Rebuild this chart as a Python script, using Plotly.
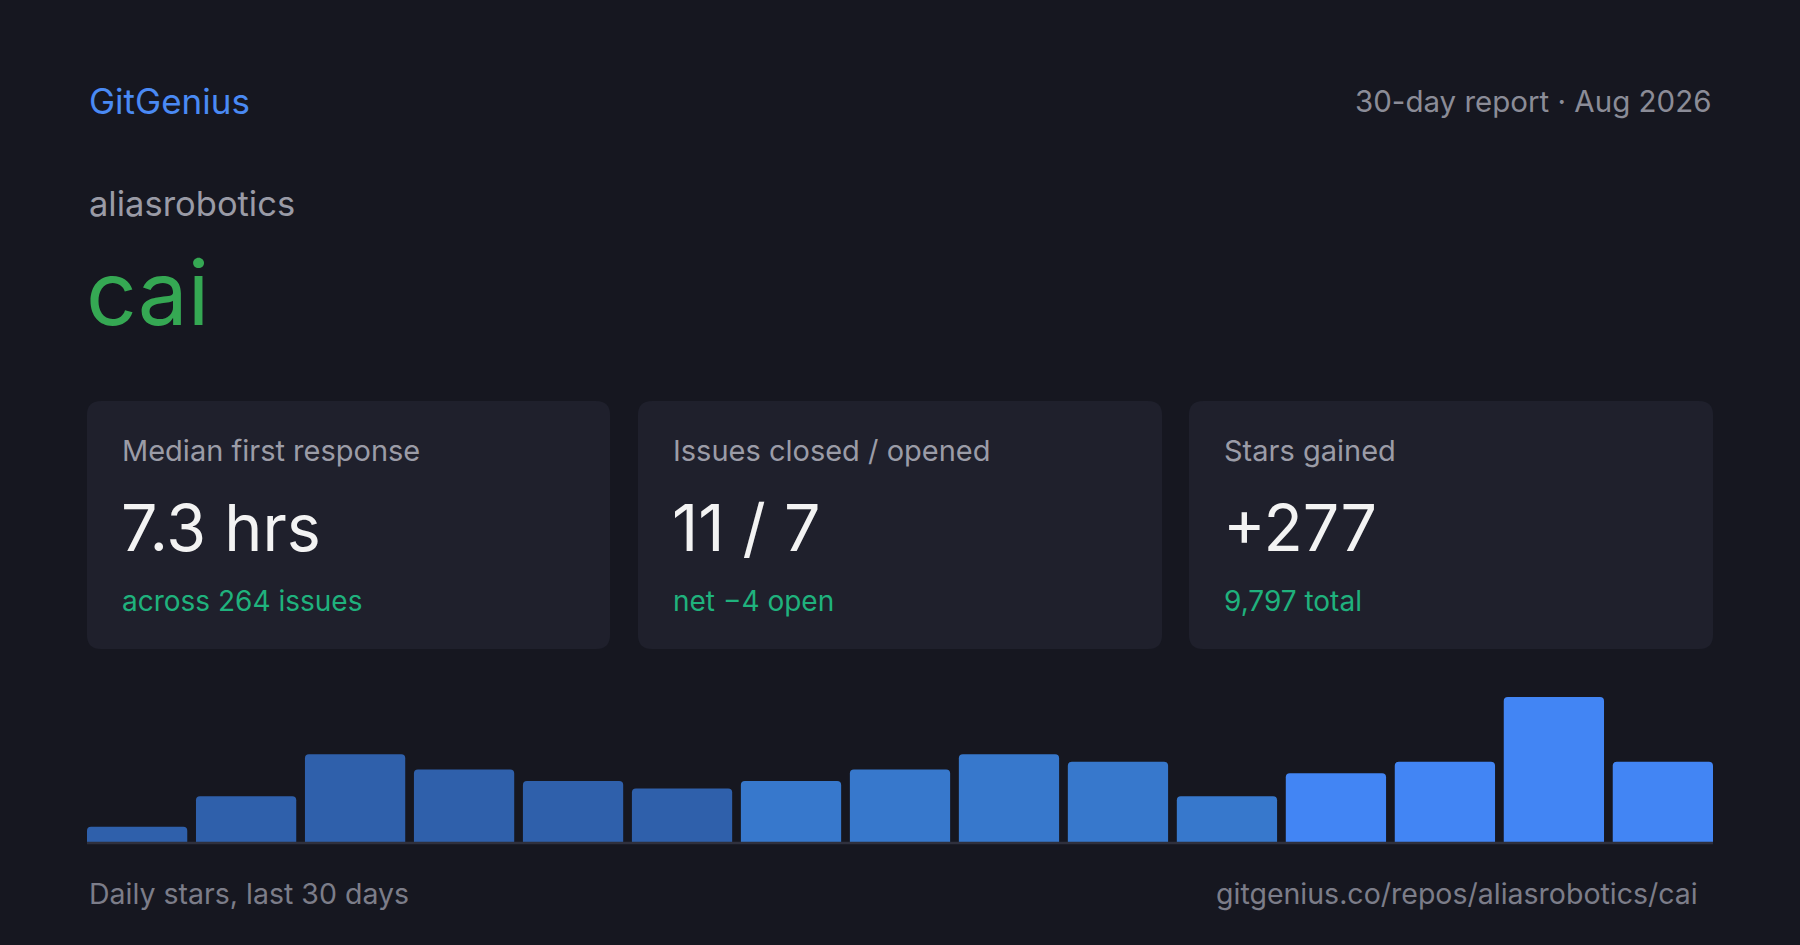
import plotly.graph_objects as go

owner = "aliasrobotics"
repo = "cai"
report_label = "30-day report · Aug 2026"
card_titles = ["Median first response", "Issues closed / opened", "Stars gained"]
card_values = ["7.3 hrs", "11 / 7", "+277"]
card_notes = ["across 264 issues", "net −4 open", "9,797 total"]
bins = list(range(15))
daily_stars = [4, 12, 23, 19, 16, 14, 16, 19, 23, 21, 12, 18, 21, 38, 21]

W, H = 1800, 945
BG = "#161720"
CARD_BG = "#1f202c"
FONT = "Inter"
GAP = 0.08

# older bins are drawn dimmer
shades = ["#2f60ab"] * 6 + ["#3778cc"] * 5 + ["#4285f4"] * 4


def rounded_rect(x0, y0, x1, y1, r):
    return (
        f"M{x0 + r},{y0} L{x1 - r},{y0} Q{x1},{y0} {x1},{y0 + r} "
        f"L{x1},{y1 - r} Q{x1},{y1} {x1 - r},{y1} L{x0 + r},{y1} "
        f"Q{x0},{y1} {x0},{y1 - r} L{x0},{y0 + r} Q{x0},{y0} {x0 + r},{y0} Z"
    )


fig = go.Figure()
fig.add_trace(
    go.Bar(
        x=bins,
        y=daily_stars,
        marker=dict(color=shades, cornerradius=4, line=dict(width=0)),
        hoverinfo="skip",
    )
)

left, right = 87, 1713
base_y, top_y = 842, 697
# trim half a gap at each end so the outer bars sit flush with the cards
x_range = [-0.5 + GAP / 2, len(bins) - 0.5 - GAP / 2]
fig.update_layout(
    width=W,
    height=H,
    margin=dict(l=0, r=0, t=0, b=0),
    paper_bgcolor=BG,
    plot_bgcolor="rgba(0,0,0,0)",
    showlegend=False,
    bargap=GAP,
    xaxis=dict(domain=[left / W, right / W], range=x_range, visible=False, fixedrange=True),
    yaxis=dict(domain=[1 - base_y / H, 1 - top_y / H], range=[0, max(daily_stars)],
               visible=False, fixedrange=True),
    # pixel space overlay for cards and text
    xaxis2=dict(domain=[0, 1], range=[0, W], visible=False, anchor="y2", fixedrange=True),
    yaxis2=dict(domain=[0, 1], range=[H, 0], visible=False, anchor="x2", fixedrange=True),
    font=dict(family=FONT),
)

shapes = []
card_x = [(87, 610), (638, 1162), (1189, 1713)]
for x0, x1 in card_x:
    shapes.append(dict(type="path", path=rounded_rect(x0, 401, x1, 649, 14),
                       xref="x2", yref="y2", fillcolor=CARD_BG, line=dict(width=0), layer="below"))
shapes.append(dict(type="line", x0=left, x1=right, y0=base_y + 1, y1=base_y + 1,
                   xref="x2", yref="y2", line=dict(color="#2f303d", width=2.5)))
fig.update_layout(shapes=shapes)


def label(x, y, text, size, color, anchor="left"):
    fig.add_annotation(x=x, y=y, xref="x2", yref="y2", text=text, showarrow=False,
                       xanchor=anchor, yanchor="middle",
                       font=dict(family=FONT, size=size, color=color))


label(87, 101, "GitGenius", 35, "#4a8af4")
label(1713, 101, report_label, 29.5, "#8b8c97", "right")
label(87, 203, owner, 34.5, "#9a9ba6")
label(84, 292, repo, 89, "#35a853")

for (x0, _), t, v, n in zip(card_x, card_titles, card_values, card_notes):
    label(x0 + 33, 450, t, 29, "#9b9ca7")
    label(x0 + 32, 528, v, 64.5, "#f3f3f3")
    label(x0 + 33, 601, n, 28, "#1fb27d")

label(87, 893, "Daily stars, last 30 days", 28.5, "#7c7d89")
label(1700, 893, f"gitgenius.co/repos/{owner}/{repo}", 28.5, "#7c7d89", "right")

# drop the default page margin so the card fills the window
fig.write_html(
    "out.html",
    config={"displayModeBar": False},
    post_script="document.body.style.margin='0';document.body.style.background='#161720';",
)
